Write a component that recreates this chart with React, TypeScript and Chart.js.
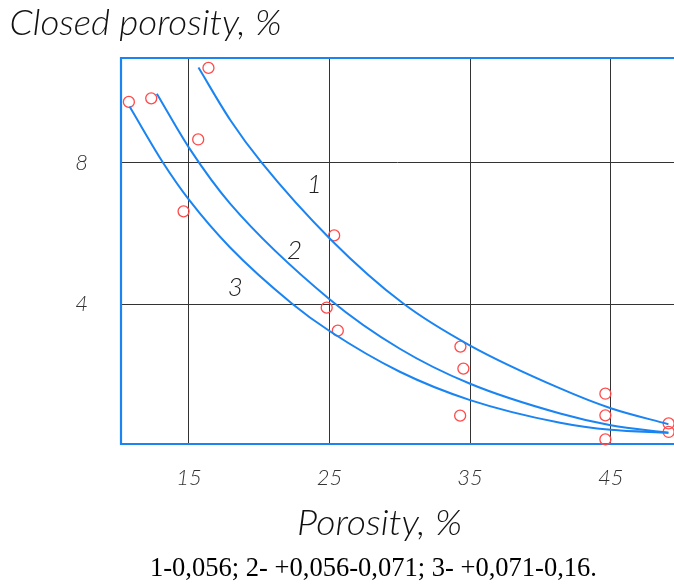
import React, { useEffect, useRef } from "react";
import { Chart, registerables } from "chart.js";

Chart.register(...registerables);

// ---- data ----
const xTicks = [15, 25, 35, 45];
const yTicks = [4, 8];

const pointX = [10.73, 12.32, 16.39, 15.66, 14.62, 25.33, 24.8, 25.59, 34.31, 34.52, 34.29, 44.62, 44.62, 44.62, 49.12, 49.12];
const pointY = [9.71, 9.81, 10.67, 8.65, 6.62, 5.94, 3.9, 3.25, 2.8, 2.18, 0.85, 1.47, 0.86, 0.18, 0.63, 0.39];

const curve1X = [15.68, 17.94, 20.16, 25.1, 30.2, 35, 41.4, 45, 49.1];
const curve1Y = [10.68, 9.2, 8.0, 5.82, 4.03, 2.83, 1.62, 1.06, 0.61];

const curve2X = [12.72, 15, 17.93, 25, 30, 35, 41.4, 45, 49.1];
const curve2Y = [9.94, 8.42, 6.84, 4.14, 2.74, 1.75, 0.91, 0.58, 0.37];

const curve3X = [10.78, 13.15, 15, 17.93, 22.32, 25, 30, 35, 41.4, 45, 49.1];
const curve3Y = [9.58, 8.0, 6.95, 5.6, 4.02, 3.24, 2.09, 1.29, 0.65, 0.45, 0.37];

const curveNames = ["1", "2", "3"];
const curveNameX = [23.91, 22.52, 18.29];
const curveNameY = [7.38, 5.52, 4.47];

const yTitle = "Closed porosity, %";
const xTitle = "Porosity, %";
const caption = "1-0,056; 2- +0,056-0,071; 3- +0,071-0,16.";

const BLUE = "#1a84f2";
const RED = "#ff4a4a";
const GOST = "Lato, 'DejaVu Sans', sans-serif";

const toXY = (xs: number[], ys: number[]) => xs.map((x, i) => ({ x, y: ys[i] }));

function drawFit(ctx: CanvasRenderingContext2D, text: string, font: string, left: number, baseline: number, width: number, color: string) {
  ctx.save();
  ctx.font = font;
  const w = ctx.measureText(text).width;
  const s = width / w;
  ctx.translate(left, baseline);
  ctx.scale(s, 1);
  ctx.textAlign = "left";
  ctx.textBaseline = "alphabetic";
  ctx.fillStyle = color;
  ctx.fillText(text, 0, 0);
  ctx.restore();
}

export default function App() {
  const ref = useRef<HTMLCanvasElement>(null);

  useEffect(() => {
    const canvas = ref.current;
    if (!canvas) return;

    const framePlugin = {
      id: "frame",
      beforeDatasetsDraw(chart: any) {
        const { ctx, chartArea } = chart;
        ctx.save();
        ctx.strokeStyle = BLUE;
        ctx.lineWidth = 2.2;
        ctx.beginPath();
        ctx.moveTo(chartArea.right + 4, chartArea.top);
        ctx.lineTo(chartArea.left, chartArea.top);
        ctx.lineTo(chartArea.left, chartArea.bottom);
        ctx.lineTo(chartArea.right + 4, chartArea.bottom);
        ctx.stroke();
        ctx.restore();
      },
      afterDraw(chart: any) {
        const { ctx, scales } = chart;
        drawFit(ctx, yTitle, `italic 300 36px ${GOST}`, 9.5, 35, 272, "#111");
        drawFit(ctx, xTitle, `italic 300 36px ${GOST}`, 297, 535, 165, "#111");
        drawFit(ctx, caption, `26.5px 'Liberation Serif', 'Times New Roman', serif`, 150, 576, 447, "#000");
        ctx.save();
        ctx.font = `italic 300 26px ${GOST}`;
        ctx.fillStyle = "#222";
        ctx.textAlign = "center";
        ctx.textBaseline = "middle";
        curveNames.forEach((n, i) => {
          ctx.fillText(n, scales.x.getPixelForValue(curveNameX[i]), scales.y.getPixelForValue(curveNameY[i]));
        });
        ctx.restore();
      },
    };

    const lineDs = (xs: number[], ys: number[]) => ({
      data: toXY(xs, ys),
      showLine: true,
      borderColor: BLUE,
      borderWidth: 2,
      pointRadius: 0,
      pointHoverRadius: 0,
      cubicInterpolationMode: "monotone" as const,
      fill: false,
    });

    const tickFont = { family: GOST, size: 22, style: "italic" as const, weight: "300" as any };

    const chart = new Chart(canvas, {
      type: "scatter",
      data: {
        datasets: [
          lineDs(curve1X, curve1Y),
          lineDs(curve2X, curve2Y),
          lineDs(curve3X, curve3Y),
          {
            data: toXY(pointX, pointY),
            showLine: false,
            pointRadius: 5.5,
            pointHoverRadius: 5.5,
            pointBorderWidth: 1.3,
            pointBorderColor: RED,
            pointBackgroundColor: "rgba(0,0,0,0)",
            clip: false as any,
          },
        ],
      },
      options: {
        responsive: false,
        animation: false,
        events: [],
        layout: { autoPadding: false, padding: { top: 58, left: 0, right: 0, bottom: 0 } },
        plugins: {
          legend: { display: false },
          tooltip: { enabled: false },
          title: { display: false },
        },
        scales: {
          x: {
            type: "linear",
            min: 10.17,
            max: 49.5,
            afterBuildTicks: (s: any) => {
              s.ticks = xTicks.map((v) => ({ value: v }));
            },
            afterFit: (s: any) => {
              s.height = 140;
            },
            grid: { color: "#333", lineWidth: 1, drawTicks: false },
            border: { display: false },
            ticks: {
              padding: 21,
              color: "#333",
              font: tickFont,
              autoSkip: false,
              maxRotation: 0,
              callback: (v: any) => String(v),
            },
          },
          y: {
            type: "linear",
            min: 0.05,
            max: 10.95,
            afterBuildTicks: (s: any) => {
              s.ticks = yTicks.map((v) => ({ value: v }));
            },
            afterFit: (s: any) => {
              s.width = 121;
            },
            grid: { color: "#333", lineWidth: 1, drawTicks: false },
            border: { display: false },
            ticks: {
              padding: 33,
              color: "#333",
              font: tickFont,
              autoSkip: false,
              callback: (v: any) => String(v),
            },
          },
        },
      },
      plugins: [framePlugin],
    });

    return () => chart.destroy();
  }, []);

  return (
    <div style={{ position: "absolute", left: 0, top: 0, width: 674, height: 584, overflow: "hidden", background: "#fff" }}>
      <canvas ref={ref} width={674} height={584} style={{ display: "block" }} />
    </div>
  );
}
